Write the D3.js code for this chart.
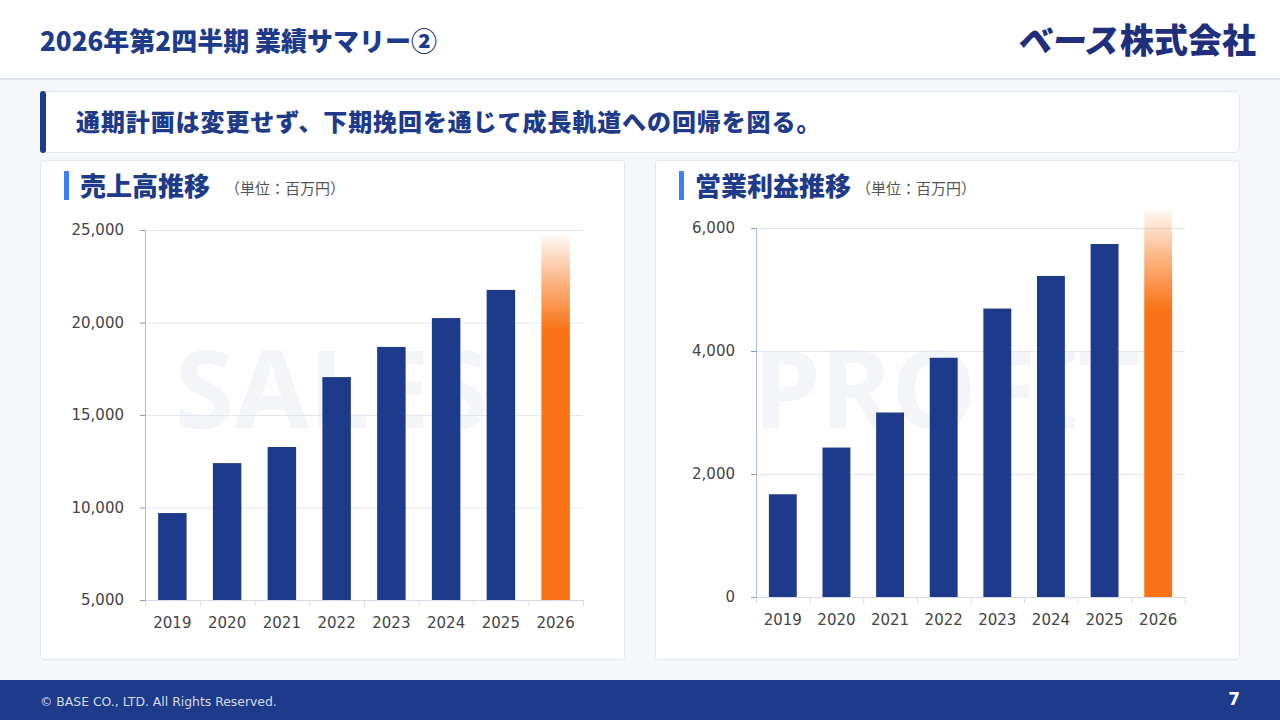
<!DOCTYPE html>
<html>
<head>
<meta charset="utf-8">
<script src="https://cdn.jsdelivr.net/npm/d3@7"></script>
<style>
  body { margin: 0; background: #f5f7fa; }
  svg { display: block; }
</style>
</head>
<body>
<div id="slide"></div>
<script>
// data
var years = ["2019", "2020", "2021", "2022", "2023", "2024", "2025", "2026"];
var salesValues = [9700, 12400, 13270, 17050, 18680, 20240, 21760, 24700];
var profitValues = [1670, 2430, 3000, 3890, 4690, 5220, 5740, 6300];
var salesTicks = [5000, 10000, 15000, 20000, 25000];
var profitTicks = [0, 2000, 4000, 6000];

var navy = "#1e3a8a";
var orange = "#f97316";
var jp = "'Noto Sans CJK JP', 'Noto Sans', sans-serif";
var tickFont = "'DejaVu Sans', Verdana, sans-serif";

var svg = d3.select("#slide")
  .append("svg")
    .attr("width", 1280)
    .attr("height", 720);

var defs = svg.append("defs");
var grad = defs.append("linearGradient")
  .attr("id", "fadeOrange")
  .attr("x1", 0).attr("y1", 0).attr("x2", 0).attr("y2", 1);
grad.append("stop").attr("offset", 0).attr("stop-color", orange).attr("stop-opacity", 0.04);
grad.append("stop").attr("offset", 0.13).attr("stop-color", orange).attr("stop-opacity", 0.55);
grad.append("stop").attr("offset", 0.26).attr("stop-color", orange).attr("stop-opacity", 1);
grad.append("stop").attr("offset", 1).attr("stop-color", orange).attr("stop-opacity", 1);

// header
svg.append("rect").attr("x", 0).attr("y", 0).attr("width", 1280).attr("height", 78).attr("fill", "#fff");
svg.append("rect").attr("x", 0).attr("y", 78).attr("width", 1280).attr("height", 2).attr("fill", "#dfe5ee");
svg.append("text")
  .attr("x", 40).attr("y", 51)
  .style("font-family", jp).style("font-weight", 800).style("font-size", "26px")
  .attr("fill", navy)
  .text("2026年第2四半期 業績サマリー②");

// logo
svg.append("text")
  .attr("transform", "translate(1017,53) skewX(-10)")
  .style("font-family", jp).style("font-weight", 900).style("font-size", "34px")
  .attr("fill", "#1f2f7c")
  .text("ベース");
svg.append("text")
  .attr("x", 1120).attr("y", 53)
  .style("font-family", jp).style("font-weight", 900).style("font-size", "34px")
  .attr("fill", "#1f2f7c")
  .text("株式会社");

// message box
svg.append("rect")
  .attr("x", 40.5).attr("y", 91.5).attr("width", 1199).attr("height", 61).attr("rx", 5)
  .attr("fill", "#fff").attr("stroke", "#e2e8f0");
svg.append("rect")
  .attr("x", 40).attr("y", 91).attr("width", 6).attr("height", 62).attr("rx", 3)
  .attr("fill", navy);
svg.append("text")
  .attr("x", 76).attr("y", 131)
  .style("font-family", jp).style("font-weight", 800).style("font-size", "24px")
  .style("letter-spacing", "0.9px")
  .attr("fill", navy)
  .text("通期計画は変更せず、下期挽回を通じて成長軌道への回帰を図る。");

// footer
svg.append("rect").attr("x", 0).attr("y", 680).attr("width", 1280).attr("height", 40).attr("fill", navy);
svg.append("text")
  .attr("x", 40).attr("y", 706)
  .style("font-family", tickFont).style("font-size", "12.4px")
  .attr("fill", "#d4dbec")
  .text("© BASE CO., LTD. All Rights Reserved.");
svg.append("text")
  .attr("x", 1240).attr("y", 705).attr("text-anchor", "end")
  .style("font-family", tickFont).style("font-weight", 700).style("font-size", "17px")
  .attr("fill", "#fff")
  .text("7");

function drawPanel(px, title, unitX, watermark, values, ticks, plot) {
  var g = svg.append("g");

  g.append("rect")
    .attr("x", px + 0.5).attr("y", 160.5).attr("width", 584).attr("height", 499).attr("rx", 3)
    .attr("fill", "#fff").attr("stroke", "#e2e8f0");

  // watermark
  g.append("text")
    .attr("x", px + 292).attr("y", 428).attr("text-anchor", "middle")
    .style("font-family", "'Noto Sans', sans-serif").style("font-weight", 700).style("font-size", "108px")
    .attr("fill", "#f3f5f9")
    .text(watermark);

  // title
  g.append("rect").attr("x", px + 24).attr("y", 171).attr("width", 5).attr("height", 29).attr("fill", "#3b82f6");
  g.append("text")
    .attr("x", px + 40).attr("y", 196)
    .style("font-family", jp).style("font-weight", 800).style("font-size", "26px")
    .attr("fill", navy)
    .text(title);
  g.append("text")
    .attr("x", px + unitX).attr("y", 194)
    .style("font-family", jp).style("font-size", "15px")
    .attr("fill", "#555")
    .text("（単位：百万円）");

  var x = d3.scaleBand()
    .domain(years)
    .range([plot.left, plot.right])
    .paddingInner(0.48)
    .paddingOuter(0.24);

  var y = d3.scaleLinear()
    .domain([ticks[0], ticks[ticks.length - 1]])
    .range([plot.bottom, plot.top]);

  // gridlines
  g.append("g")
    .selectAll("line")
    .data(ticks.slice(1))
    .enter()
    .append("line")
      .attr("x1", plot.left).attr("x2", plot.right)
      .attr("y1", function(d) { return y(d) + 0.5; })
      .attr("y2", function(d) { return y(d) + 0.5; })
      .attr("stroke", "#e1e7ef");

  // bars
  g.append("g")
    .selectAll("rect")
    .data(values)
    .enter()
    .append("rect")
      .attr("x", function(d, i) { return x(years[i]); })
      .attr("y", function(d) { return y(d); })
      .attr("width", x.bandwidth())
      .attr("height", function(d) { return y(ticks[0]) - y(d); })
      .attr("fill", function(d, i) { return i == years.length - 1 ? "url(#fadeOrange)" : navy; });

  // x axis
  var xAxis = g.append("g")
    .attr("transform", "translate(0," + plot.bottom + ")")
    .call(d3.axisBottom(x).tickSize(0).tickPadding(17));
  xAxis.select(".domain").remove();
  xAxis.selectAll("text")
    .style("font-family", tickFont).style("font-size", "15px").attr("fill", "#444");
  xAxis.append("line")
    .attr("x1", plot.left - 5).attr("x2", plot.right)
    .attr("y1", 0.5).attr("y2", 0.5)
    .attr("stroke", "#d6dce5");
  xAxis.selectAll(".sep")
    .data(d3.range(years.length + 1))
    .enter()
    .append("line")
      .attr("class", "sep")
      .attr("x1", function(i) { return plot.left + i * x.step() + 0.5; })
      .attr("x2", function(i) { return plot.left + i * x.step() + 0.5; })
      .attr("y1", 0).attr("y2", 6)
      .attr("stroke", "#d6dce5");

  // y axis
  var yAxis = g.append("g")
    .attr("transform", "translate(" + plot.left + ",0)")
    .call(d3.axisLeft(y).tickValues(ticks).tickFormat(d3.format(",")).tickSize(5).tickPadding(16));
  yAxis.select(".domain").attr("stroke", "#a9bfdb");
  yAxis.selectAll(".tick line").attr("stroke", "#7f9cc4");
  yAxis.selectAll("text")
    .style("font-family", tickFont).style("font-size", "15px").attr("fill", "#444");
}

drawPanel(40, "売上高推移", 185, "SALES", salesValues, salesTicks,
  { left: 145, right: 583, top: 230, bottom: 600 });
drawPanel(655, "営業利益推移", 201, "PROFIT", profitValues, profitTicks,
  { left: 756, right: 1185, top: 228, bottom: 597 });
</script>
</body>
</html>
